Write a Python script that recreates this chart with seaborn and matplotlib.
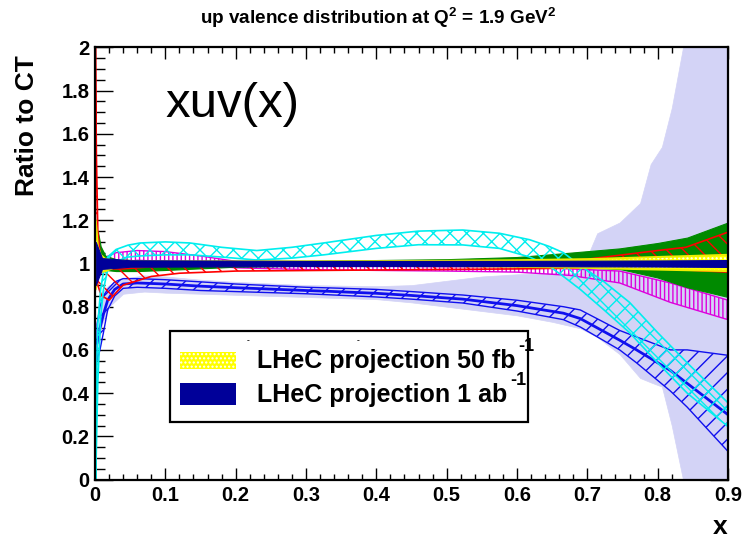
import matplotlib
matplotlib.use("Agg")
import matplotlib.pyplot as plt
from matplotlib.ticker import MultipleLocator, FuncFormatter
from matplotlib.patches import Rectangle
import seaborn as sns

# ---- xu_v(x) uncertainty bands, ratio to CT, Q^2 = 1.9 GeV^2 ----
# wide lavender band
lav_x  = [0.005, 0.01, 0.02, 0.04, 0.07, 0.1, 0.15, 0.2, 0.3, 0.4, 0.45, 0.5, 0.55, 0.6,
          0.65, 0.69, 0.714, 0.746, 0.775, 0.79, 0.806, 0.82, 0.836, 0.85, 0.9]
lav_lo = [0.62, 0.72, 0.80, 0.86, 0.87, 0.865, 0.86, 0.855, 0.845, 0.835, 0.82, 0.80, 0.78, 0.76,
          0.73, 0.70, 0.66, 0.58, 0.47, 0.45, 0.43, 0.25, 0.0, -0.1, -0.1]
lav_hi = [0.80, 0.87, 0.90, 0.93, 0.945, 0.94, 0.925, 0.915, 0.90, 0.895, 0.90, 0.92, 0.94, 0.95,
          0.955, 0.955, 1.14, 1.19, 1.28, 1.46, 1.54, 1.72, 2.0, 2.1, 2.1]

# blue hatched band
blue_x   = [0.003, 0.007, 0.012, 0.018, 0.028, 0.04, 0.06, 0.1, 0.15, 0.2, 0.3, 0.334, 0.4,
            0.45, 0.523, 0.6, 0.666, 0.69, 0.746, 0.77, 0.818, 0.842, 0.9]
blue_lo  = [0.55, 0.60, 0.68, 0.785, 0.85, 0.885, 0.89, 0.885, 0.875, 0.87, 0.86, 0.855, 0.845,
            0.835, 0.817, 0.78, 0.74, 0.706, 0.60, 0.54, 0.41, 0.335, 0.13]
blue_hi  = [0.72, 0.80, 0.85, 0.88, 0.915, 0.93, 0.93, 0.925, 0.915, 0.905, 0.89, 0.887, 0.88,
            0.87, 0.854, 0.83, 0.80, 0.785, 0.69, 0.66, 0.60, 0.60, 0.575]
blue_mid = [0.63, 0.70, 0.765, 0.83, 0.88, 0.905, 0.91, 0.905, 0.895, 0.888, 0.875, 0.871, 0.862,
            0.852, 0.835, 0.805, 0.77, 0.745, 0.645, 0.60, 0.505, 0.445, 0.30]

# cyan cross-hatched band
cyan_x  = [0.001, 0.004, 0.008, 0.012, 0.018, 0.03, 0.047, 0.064, 0.1, 0.135, 0.18, 0.23, 0.28,
           0.325, 0.4, 0.46, 0.523, 0.575, 0.618, 0.645, 0.666, 0.69, 0.722, 0.76, 0.80, 0.842, 0.9]
cyan_lo = [0.0, 0.45, 0.75, 0.88, 0.97, 1.01, 1.03, 1.035, 1.04, 1.04, 1.03, 1.016, 1.025,
           1.04, 1.07, 1.087, 1.086, 1.07, 1.03, 0.99, 0.94, 0.88, 0.79, 0.68, 0.54, 0.40, 0.245]
cyan_hi = [0.35, 0.72, 0.88, 0.96, 1.03, 1.065, 1.085, 1.095, 1.10, 1.095, 1.075, 1.06, 1.075,
           1.095, 1.13, 1.15, 1.155, 1.14, 1.11, 1.08, 1.05, 0.99, 0.92, 0.82, 0.68, 0.54, 0.355]

# magenta vertically hatched band
mag_x  = [0.005, 0.015, 0.03, 0.06, 0.1, 0.15, 0.2, 0.3, 0.4, 0.5, 0.6, 0.675, 0.746, 0.818, 0.9]
mag_lo = [0.94, 0.98, 1.0, 1.015, 1.01, 0.995, 0.98, 0.972, 0.968, 0.965, 0.96, 0.945, 0.91, 0.82, 0.74]
mag_hi = [1.0, 1.03, 1.05, 1.06, 1.055, 1.035, 1.01, 0.992, 0.988, 0.985, 0.985, 0.975, 0.965, 0.91, 0.83]

# solid green band
grn_x  = [0.001, 0.004, 0.008, 0.015, 0.03, 0.06, 0.1, 0.2, 0.3, 0.5, 0.6, 0.675, 0.746, 0.8, 0.842, 0.9]
grn_lo = [0.95, 0.97, 0.98, 0.97, 0.965, 0.965, 0.97, 0.985, 0.99, 0.99, 0.99, 0.985, 0.975, 0.935, 0.89, 0.845]
grn_hi = [1.10, 1.15, 1.08, 1.035, 1.02, 1.015, 1.012, 1.012, 1.012, 1.02, 1.03, 1.05, 1.07, 1.095, 1.12, 1.19]

# red hatched band
red_x  = [0.0005, 0.002, 0.004, 0.007, 0.01, 0.02, 0.04, 0.08, 0.12, 0.2, 0.4, 0.6, 0.7, 0.75, 0.8, 0.84, 0.9]
red_lo = [1.0, 0.95, 0.90, 0.87, 0.85, 0.83, 0.90, 0.94, 0.955, 0.965, 0.97, 0.975, 0.98, 0.98, 0.975, 0.97, 0.96]
red_hi = [2.05, 1.5, 1.15, 1.05, 1.0, 0.975, 0.975, 0.985, 0.99, 0.995, 0.995, 1.0, 1.02, 1.04, 1.06, 1.075, 1.145]

# LHeC projection 50 fb^-1
yel_x  = [0.001, 0.004, 0.008, 0.015, 0.03, 0.1, 0.3, 0.5, 0.6, 0.7, 0.8, 0.9]
yel_lo = [0.88, 0.96, 0.96, 0.965, 0.985, 0.99, 0.99, 0.988, 0.985, 0.98, 0.972, 0.965]
yel_hi = [1.20, 1.08, 1.04, 1.02, 1.012, 1.01, 1.01, 1.012, 1.015, 1.02, 1.03, 1.04]

# LHeC projection 1 ab^-1
nav_x  = [0.001, 0.01, 0.05, 0.3, 0.6, 0.8, 0.9]
nav_lo = [0.90, 0.975, 0.985, 0.988, 0.988, 0.986, 0.984]
nav_hi = [1.10, 1.025, 1.015, 1.012, 1.012, 1.014, 1.016]

legend_labels = ["LHeC projection 50 fb", "LHeC projection 1 ab"]
legend_sup = ["-1", "-1"]
x_ticks = [0, 0.1, 0.2, 0.3, 0.4, 0.5, 0.6, 0.7, 0.8, 0.9]

sns.set_theme(style="ticks")
plt.rcParams["font.family"] = ["Liberation Sans", "DejaVu Sans"]
plt.rcParams["text.color"] = "black"
plt.rcParams["axes.labelcolor"] = "black"
plt.rcParams["mathtext.fontset"] = "custom"
plt.rcParams["mathtext.rm"] = "Liberation Sans:bold"
plt.rcParams["mathtext.bf"] = "Liberation Sans:bold"
plt.rcParams["hatch.linewidth"] = 1.0

W, H = 742, 540
fig = plt.figure(figsize=(W / 100, H / 100), dpi=100)
ax = fig.add_axes([95 / W, 1 - 479.5 / H, 633 / W, 432 / H])

LAV = "#d3d3f6"
ax.fill_between(lav_x, lav_lo, lav_hi, facecolor=LAV, edgecolor=LAV, lw=0.5, zorder=1)

ax.fill_between(blue_x, blue_lo, blue_hi, facecolor="none", edgecolor="#1010ee",
                hatch="//", lw=1.0, zorder=2)
sns.lineplot(x=blue_x, y=blue_mid, color="#1010ee", lw=2.0, ax=ax, zorder=2, sort=False)

ax.fill_between(mag_x, mag_lo, mag_hi, facecolor="none", edgecolor="#dd00dd",
                hatch="||||", lw=1.0, zorder=3)

ax.fill_between(grn_x, grn_lo, grn_hi, facecolor="#008a00", edgecolor="#008a00", lw=0.8, zorder=4)

ax.fill_between(red_x, red_lo, red_hi, facecolor="none", edgecolor="#ff0000",
                hatch="\\\\", lw=1.2, zorder=5)

ax.fill_between(cyan_x, cyan_lo, cyan_hi, facecolor="none", edgecolor="#00eeee",
                hatch="xx", lw=1.2, zorder=6)

ax.fill_between(yel_x, yel_lo, yel_hi, facecolor="#ffff00", edgecolor="white",
                hatch="....", lw=0, zorder=7)
sns.lineplot(x=yel_x, y=yel_lo, color="#eeee00", lw=1.5, ax=ax, zorder=7, sort=False)
sns.lineplot(x=yel_x, y=yel_hi, color="#eeee00", lw=1.5, ax=ax, zorder=7, sort=False)

ax.fill_between(nav_x, nav_lo, nav_hi, facecolor="#000099", edgecolor="#000099", lw=0.8, zorder=8)

ax.set_xlim(0, 0.9)
ax.set_ylim(0, 2)
ax.set_xlabel("")
ax.set_ylabel("")

fmt = FuncFormatter(lambda v, p: f"{v:g}")
ax.set_xticks(x_ticks)
ax.xaxis.set_major_formatter(fmt)
ax.yaxis.set_major_locator(MultipleLocator(0.2))
ax.yaxis.set_major_formatter(fmt)
ax.xaxis.set_minor_locator(MultipleLocator(0.02))
ax.yaxis.set_minor_locator(MultipleLocator(0.05))
ax.tick_params(axis="both", which="both", direction="in", top=True, right=True,
               colors="black", width=1.0, labelsize=14.5)
ax.tick_params(axis="x", which="major", length=8.5, pad=5)
ax.tick_params(axis="x", which="minor", length=4.5)
ax.tick_params(axis="y", which="major", length=13, pad=4)
ax.tick_params(axis="y", which="minor", length=7)
for lab in ax.get_xticklabels() + ax.get_yticklabels():
    lab.set_fontweight("bold")
for s in ax.spines.values():
    s.set_linewidth(1.6)
    s.set_color("black")
    s.set_zorder(20)

# legend box drawn in axes coordinates
bx0, bx1 = (170 - 95) / 633, (528 - 95) / 633
by0, by1 = (479.5 - 422) / 432, (479.5 - 331) / 432
ax.add_patch(Rectangle((bx0, by0), bx1 - bx0, by1 - by0, transform=ax.transAxes,
                       facecolor="white", edgecolor="black", lw=1.6, zorder=30))
sw_x0, sw_w = (180 - 95) / 633, 56 / 633
ax.add_patch(Rectangle((sw_x0, (479.5 - 369) / 432), sw_w, 17 / 432, transform=ax.transAxes,
                       facecolor="#ffff00", edgecolor="white", hatch="....", lw=0, zorder=31))
ax.add_patch(Rectangle((sw_x0, (479.5 - 405) / 432), sw_w, 22 / 432, transform=ax.transAxes,
                       facecolor="#000099", edgecolor="#000099", lw=0, zorder=31))

renderer = fig.canvas.get_renderer()
for label, sup, base in zip(legend_labels, legend_sup, (368, 402)):
    t = fig.text(257 / W, 1 - base / H, label, fontsize=18, fontweight="bold",
                 ha="left", va="baseline", zorder=32)
    bb = t.get_window_extent(renderer=renderer)
    fig.text((bb.x1 + 3) / W, 1 - (base - 17) / H, sup,
             fontsize=13, fontweight="bold", ha="left", va="baseline", zorder=33)
for px in (248, 358):
    ax.text((px - 95) / 633, (479.5 - 341) / 432, "-", transform=ax.transAxes, fontsize=6,
            fontweight="bold", ha="center", va="center", zorder=32)

# annotations
fig.text(165 / W, 1 - 117 / H, "xuv(x)", fontsize=35.5, ha="left", va="baseline")
fig.text(378 / W, 1 - 18 / H, r"up valence distribution at Q$^{2}$ = 1.9 GeV$^{2}$",
         fontsize=13.6, fontweight="bold", ha="center", va="center")
fig.text(27 / W, 1 - 126 / H, "Ratio to CT", fontsize=19, fontweight="bold",
         rotation=90, ha="center", va="center")
fig.text(720 / W, 1 - 527 / H, "x", fontsize=19, fontweight="bold", ha="center", va="center")

fig.savefig("out.png", dpi=100)
